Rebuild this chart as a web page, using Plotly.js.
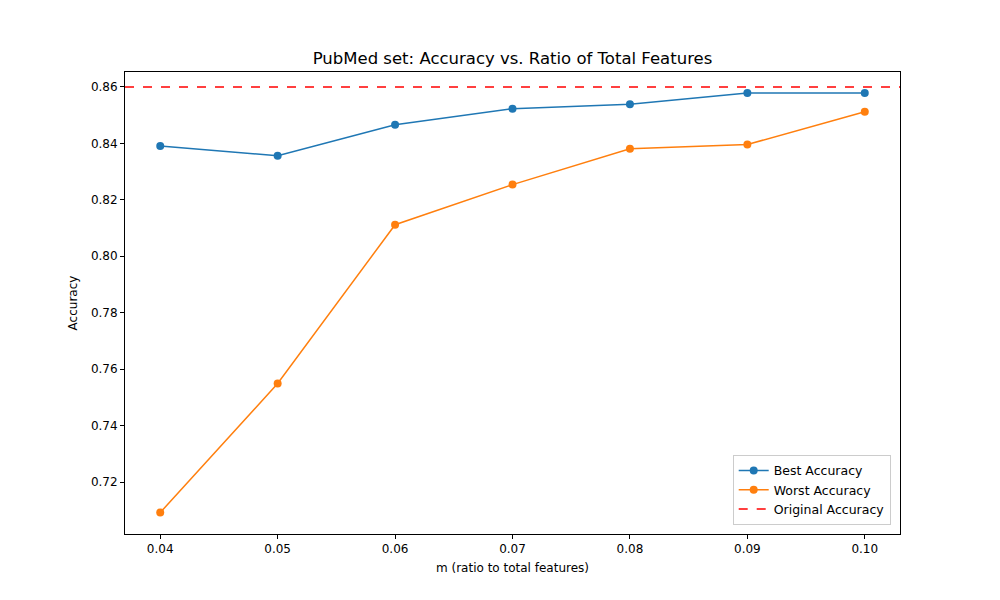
<!DOCTYPE html>
<html>
<head>
<script src="https://cdn.plot.ly/plotly-3.0.1.min.js"></script>
<style>body{margin:0}</style>
</head>
<body>
<div id="plot" style="width:1000px;height:600px"></div>
<script>
const ratios = [0.04, 0.05, 0.06, 0.07, 0.08, 0.09, 0.10];
const bestAccuracy = [0.8391, 0.8356, 0.8466, 0.8523, 0.8539, 0.8579, 0.8579];
const worstAccuracy = [0.7092, 0.7549, 0.8112, 0.8254, 0.8381, 0.8396, 0.8512];
const originalAccuracy = 0.86;

const font = { family: 'DejaVu Sans', size: 12, color: '#000' };

const traces = [
    {
        x: ratios, y: bestAccuracy, mode: 'lines+markers', name: 'Best Accuracy',
        line: { color: '#1f77b4', width: 1.5 }, marker: { color: '#1f77b4', size: 8 }
    },
    {
        x: ratios, y: worstAccuracy, mode: 'lines+markers', name: 'Worst Accuracy',
        line: { color: '#ff7f0e', width: 1.5 }, marker: { color: '#ff7f0e', size: 8 }
    },
    {
        x: [0.037, 0.103], y: [originalAccuracy, originalAccuracy], mode: 'lines', name: 'Original Accuracy',
        line: { color: 'red', width: 1.5, dash: 'dash' }
    }
];

const layout = {
    width: 1000, height: 600,
    margin: { l: 125, r: 100, t: 72, b: 66 },
    paper_bgcolor: '#fff', plot_bgcolor: '#fff',
    font: font,
    showlegend: true,
    title: { text: 'PubMed set: Accuracy vs. Ratio of Total Features', x: 0.5125, xanchor: 'center', y: 0.912, font: { family: 'DejaVu Sans', size: 16.5, color: '#000' } },
    xaxis: {
        title: { text: 'm (ratio to total features)', font: font, standoff: 8 },
        range: [0.037, 0.103], tickvals: ratios, ticktext: ratios.map(v => v.toFixed(2)),
        showgrid: false, zeroline: false, showline: true, mirror: true, linecolor: '#000',
        ticks: 'outside', ticklen: 4, tickcolor: '#000'
    },
    yaxis: {
        title: { text: 'Accuracy', font: font, standoff: 10 },
        range: [0.7016, 0.8653], dtick: 0.02, tickformat: '.2f',
        showgrid: false, zeroline: false, showline: true, mirror: true, linecolor: '#000',
        ticks: 'outside', ticklen: 4, tickcolor: '#000'
    },
    legend: {
        x: 0.988, y: 0.02, xanchor: 'right', yanchor: 'bottom',
        bgcolor: 'rgba(255,255,255,0.8)', bordercolor: '#ccc', borderwidth: 1,
        font: { family: 'DejaVu Sans', size: 12.5 }
    }
};

Plotly.newPlot('plot', traces, layout, { displayModeBar: false });
</script>
</body>
</html>
